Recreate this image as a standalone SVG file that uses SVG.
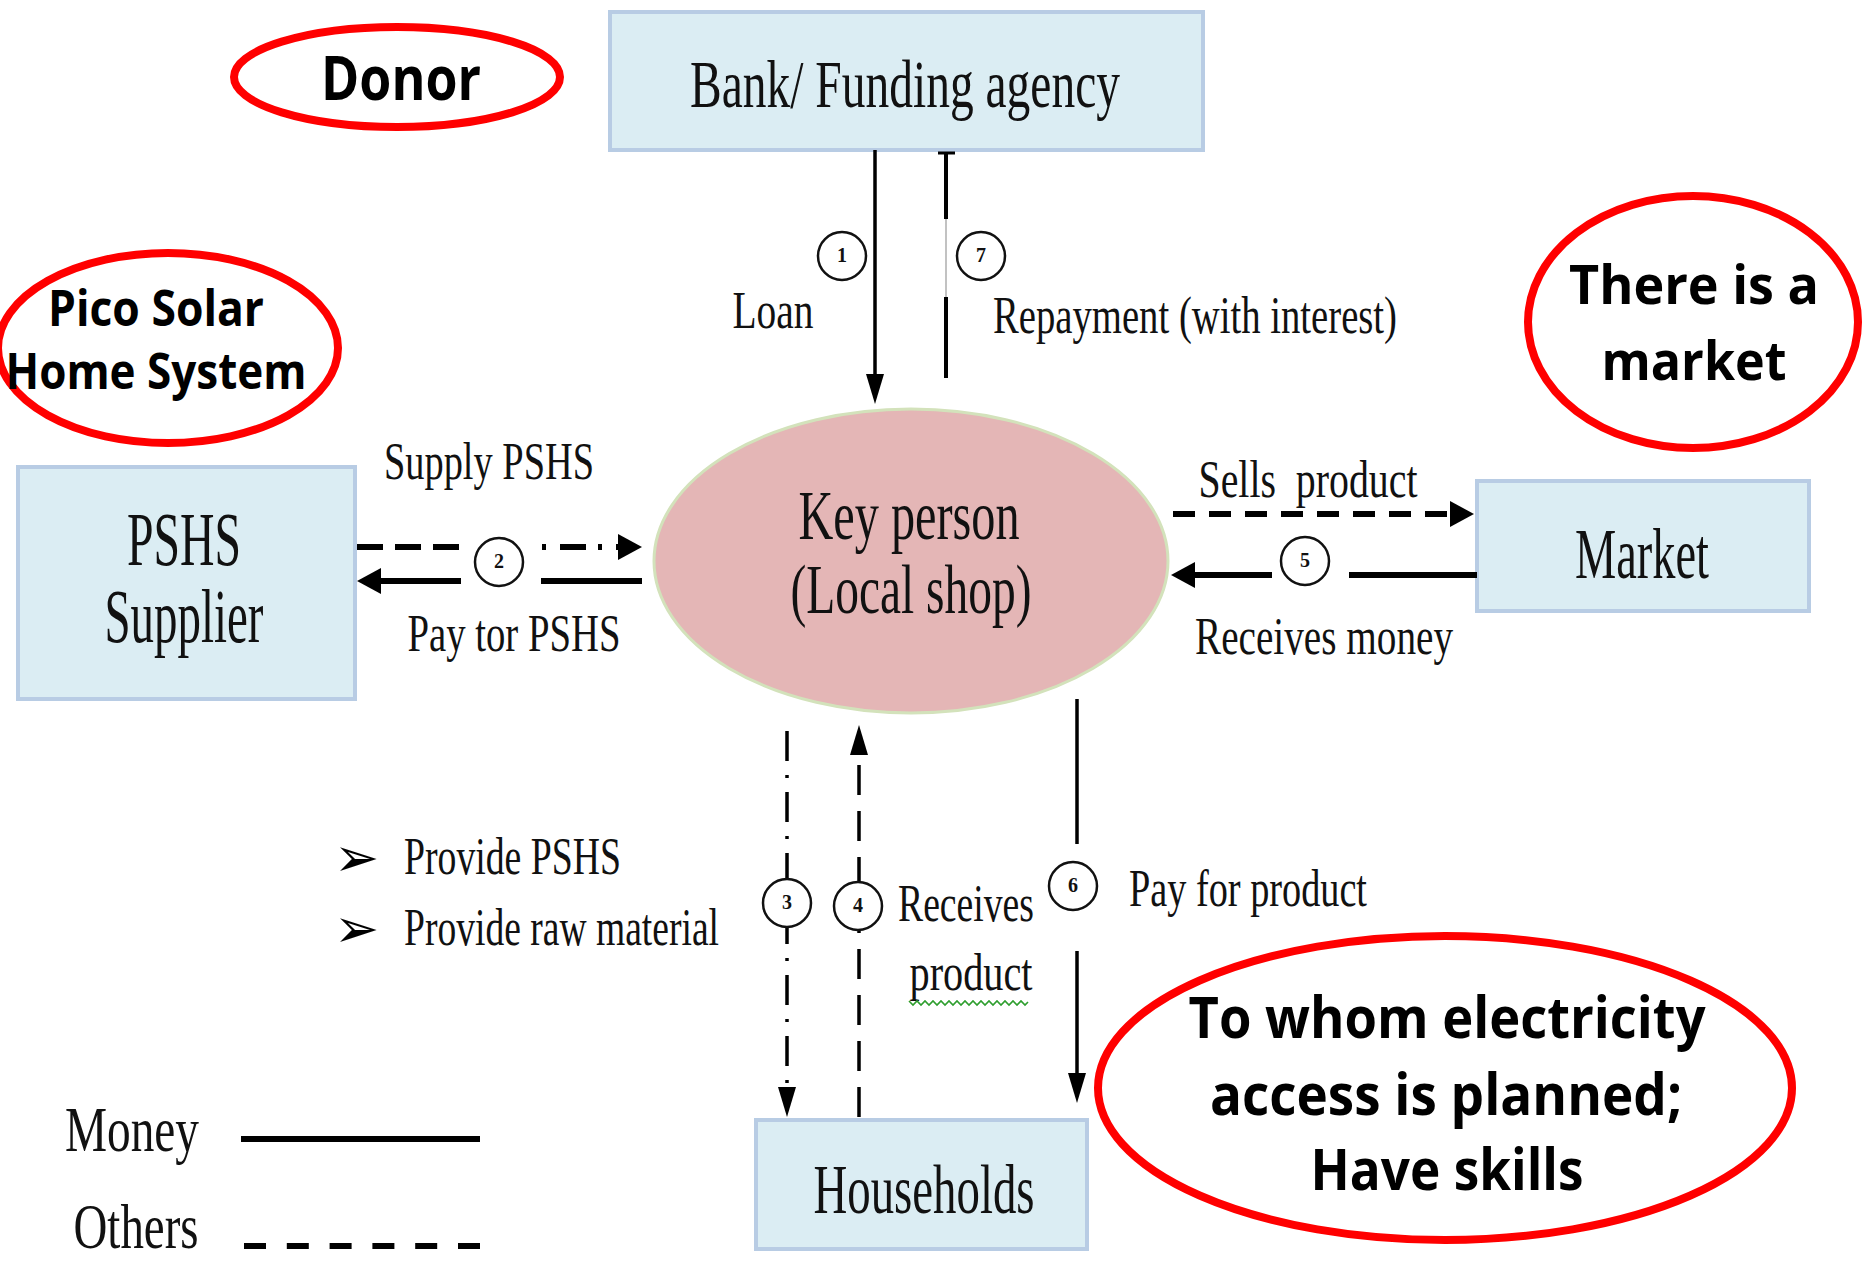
<svg xmlns="http://www.w3.org/2000/svg" width="1864" height="1261" viewBox="0 0 1864 1261">
<style>
.box{fill:#dbedf3;stroke:#b8cce4;stroke-width:4}
.red{fill:none;stroke:#ff0000;stroke-width:8}
.ser{font-family:"Liberation Serif","Times New Roman",serif;fill:#111;text-anchor:middle}
.bold{font-family:"Open Sans","Liberation Sans",sans-serif;font-weight:bold;fill:#000;text-anchor:middle}
.ln{stroke:#000;fill:none}
.num{fill:#fff;stroke:#111;stroke-width:2.5}
.numt{font-family:"Liberation Serif",serif;font-size:20px;font-weight:bold;text-anchor:middle;fill:#111}
</style>
<defs>
<marker id="a1" markerUnits="userSpaceOnUse" viewBox="0 0 30 18" refX="6" refY="9" markerWidth="30" markerHeight="18" orient="auto"><path d="M0,0 L30,9 L0,18 z" fill="#000"/></marker>
<marker id="a2" markerUnits="userSpaceOnUse" viewBox="0 0 24 26" refX="6" refY="13" markerWidth="24" markerHeight="26" orient="auto"><path d="M0,0 L24,13 L0,26 z" fill="#000"/></marker>
</defs>
<rect width="1864" height="1261" fill="#fff"/>

<g id="bank"><rect class="box" x="610" y="12" width="593" height="138"/><text class="ser" x="905" y="107" font-size="68" textLength="430" lengthAdjust="spacingAndGlyphs">Bank/ Funding agency</text></g>
<g id="donor"><ellipse class="red" cx="397" cy="77" rx="163" ry="50" stroke-width="7"/><text class="bold" x="401" y="100" font-size="60" textLength="160" lengthAdjust="spacingAndGlyphs">Donor</text></g>
<g id="pico"><ellipse class="red" cx="168" cy="348" rx="170" ry="95"/><text class="bold" x="156" y="326" font-size="50" textLength="216" lengthAdjust="spacingAndGlyphs">Pico Solar</text><text class="bold" x="156" y="389" font-size="50" textLength="301" lengthAdjust="spacingAndGlyphs">Home System</text></g>
<g id="market-note"><ellipse class="red" cx="1693" cy="322" rx="165" ry="126"/><text class="bold" x="1694" y="304" font-size="54" textLength="250" lengthAdjust="spacingAndGlyphs">There is a</text><text class="bold" x="1694" y="380" font-size="54" textLength="185" lengthAdjust="spacingAndGlyphs">market</text></g>
<g id="supplier"><rect class="box" x="18" y="467" width="337" height="232"/><text class="ser" x="184" y="565" font-size="76" textLength="114" lengthAdjust="spacingAndGlyphs">PSHS</text><text class="ser" x="184" y="642" font-size="76" textLength="159" lengthAdjust="spacingAndGlyphs">Supplier</text></g>
<g id="keyperson"><ellipse cx="911" cy="561" rx="257" ry="152" fill="#e4b6b6" stroke="#d3e2bb" stroke-width="3"/><text class="ser" x="909" y="539" font-size="70" textLength="221" lengthAdjust="spacingAndGlyphs">Key person</text><text class="ser" x="911" y="613" font-size="70" textLength="241" lengthAdjust="spacingAndGlyphs">(Local shop)</text></g>
<g id="market"><rect class="box" x="1477" y="481" width="332" height="130"/><text class="ser" x="1642" y="578" font-size="72" textLength="134" lengthAdjust="spacingAndGlyphs">Market</text></g>
<g id="households"><rect class="box" x="756" y="1120" width="331" height="129"/><text class="ser" x="924" y="1213" font-size="70" textLength="221" lengthAdjust="spacingAndGlyphs">Households</text></g>
<g id="skills-note"><ellipse class="red" cx="1445" cy="1088" rx="347" ry="152" stroke-width="9"/><text class="bold" x="1447" y="1038" font-size="58" textLength="517" lengthAdjust="spacingAndGlyphs">To whom electricity</text><text class="bold" x="1446" y="1115" font-size="58" textLength="472" lengthAdjust="spacingAndGlyphs">access is planned;</text><text class="bold" x="1447" y="1190" font-size="58" textLength="273" lengthAdjust="spacingAndGlyphs">Have skills</text></g>

<g id="connectors">
<!-- 1 Loan -->
<line class="ln" x1="875" y1="150" x2="875" y2="380" stroke-width="3.5" marker-end="url(#a1)"/>
<circle class="num" cx="842" cy="256" r="24"/><text class="numt" x="842" y="262">1</text>
<text class="ser" x="773" y="328" font-size="52" textLength="81" lengthAdjust="spacingAndGlyphs">Loan</text>
<!-- 7 Repayment -->
<line class="ln" x1="938" y1="153" x2="955" y2="153" stroke-width="3"/>
<line class="ln" x1="946" y1="153" x2="946" y2="219" stroke-width="4"/>
<line x1="946" y1="219" x2="946" y2="297" stroke="#999" stroke-width="1.2"/>
<line class="ln" x1="946" y1="297" x2="946" y2="378" stroke-width="4"/>
<circle class="num" cx="981" cy="256" r="24"/><text class="numt" x="981" y="262">7</text>
<text class="ser" x="1195" y="333" font-size="52" textLength="404" lengthAdjust="spacingAndGlyphs">Repayment (with interest)</text>
<!-- 2 Supply / Pay PSHS -->
<line class="ln" x1="357" y1="547" x2="470" y2="547" stroke-width="6" stroke-dasharray="26 12"/>
<line class="ln" x1="542" y1="547" x2="624" y2="547" stroke-width="6" stroke-dasharray="4 14 26 12" marker-end="url(#a2)"/>
<line class="ln" x1="461" y1="581" x2="375" y2="581" stroke-width="6" marker-end="url(#a2)"/>
<line class="ln" x1="541" y1="581" x2="642" y2="581" stroke-width="6"/>
<circle class="num" cx="499" cy="562" r="24"/><text class="numt" x="499" y="568">2</text>
<text class="ser" x="489" y="479" font-size="52" textLength="210" lengthAdjust="spacingAndGlyphs">Supply PSHS</text>
<text class="ser" x="514" y="651" font-size="52" textLength="213" lengthAdjust="spacingAndGlyphs">Pay tor PSHS</text>
<!-- Sells product / 5 Receives money -->
<line class="ln" x1="1173" y1="514" x2="1456" y2="514" stroke-width="6" stroke-dasharray="22 14" marker-end="url(#a2)"/>
<line class="ln" x1="1272" y1="575" x2="1189" y2="575" stroke-width="6" marker-end="url(#a2)"/>
<line class="ln" x1="1349" y1="575" x2="1477" y2="575" stroke-width="6"/>
<circle class="num" cx="1305" cy="561" r="24"/><text class="numt" x="1305" y="567">5</text>
<text class="ser" x="1308" y="497" font-size="52" textLength="219" lengthAdjust="spacingAndGlyphs" style="white-space:pre">Sells  product</text>
<text class="ser" x="1324" y="654" font-size="52" textLength="258" lengthAdjust="spacingAndGlyphs">Receives money</text>
<!-- 3 -->
<line class="ln" x1="787" y1="731" x2="787" y2="1093" stroke-width="3.5" stroke-dasharray="30 14 3 14" marker-end="url(#a1)"/>
<circle class="num" cx="787" cy="903" r="24"/><text class="numt" x="787" y="909">3</text>
<!-- 4 -->
<line class="ln" x1="859" y1="1117" x2="859" y2="749" stroke-width="3.5" stroke-dasharray="30 16" marker-end="url(#a1)"/>
<circle class="num" cx="858" cy="906" r="24"/><text class="numt" x="858" y="912">4</text>
<text class="ser" transform="translate(966,921) scale(0.72,1)" x="0" y="0" font-size="52" textLength="188.9" lengthAdjust="spacingAndGlyphs">Receives</text>
<text class="ser" x="971" y="990" font-size="52" textLength="123" lengthAdjust="spacingAndGlyphs">product</text>
<path d="M909,1001 l4,4 l4,-4 l4,4 l4,-4 l4,4 l4,-4 l4,4 l4,-4 l4,4 l4,-4 l4,4 l4,-4 l4,4 l4,-4 l4,4 l4,-4 l4,4 l4,-4 l4,4 l4,-4 l4,4 l4,-4 l4,4 l4,-4 l4,4 l4,-4 l4,4 l4,-4 l4,4 l3,-3" fill="none" stroke="#2e9e2e" stroke-width="1.6"/>
<!-- 6 -->
<line class="ln" x1="1077" y1="699" x2="1077" y2="844" stroke-width="3.5"/>
<line class="ln" x1="1077" y1="951" x2="1077" y2="1079" stroke-width="3.5" marker-end="url(#a1)"/>
<circle class="num" cx="1073" cy="886" r="24"/><text class="numt" x="1073" y="892">6</text>
<text class="ser" transform="translate(1248,906) scale(0.74,1)" x="0" y="0" font-size="52" textLength="321.6" lengthAdjust="spacingAndGlyphs">Pay for product</text>
</g>

<g id="bullets">
<text x="334" y="876" font-family="DejaVu Sans,sans-serif" font-size="54" fill="#000">➢</text>
<text x="334" y="947" font-family="DejaVu Sans,sans-serif" font-size="54" fill="#000">➢</text>
<text class="ser" x="404" y="874" font-size="52" textLength="217" lengthAdjust="spacingAndGlyphs" style="text-anchor:start">Provide PSHS</text>
<text class="ser" transform="translate(404,945) scale(0.72,1)" x="0" y="0" font-size="52" textLength="437.5" lengthAdjust="spacingAndGlyphs" style="text-anchor:start">Provide raw material</text>
</g>

<g id="legend">
<text class="ser" x="132" y="1151" font-size="64" textLength="134" lengthAdjust="spacingAndGlyphs">Money</text>
<line class="ln" x1="241" y1="1139" x2="480" y2="1139" stroke-width="6"/>
<text class="ser" x="136" y="1248" font-size="64" textLength="125" lengthAdjust="spacingAndGlyphs">Others</text>
<line class="ln" x1="244" y1="1246" x2="480" y2="1246" stroke-width="6" stroke-dasharray="22 20.8"/>
</g>
</svg>
